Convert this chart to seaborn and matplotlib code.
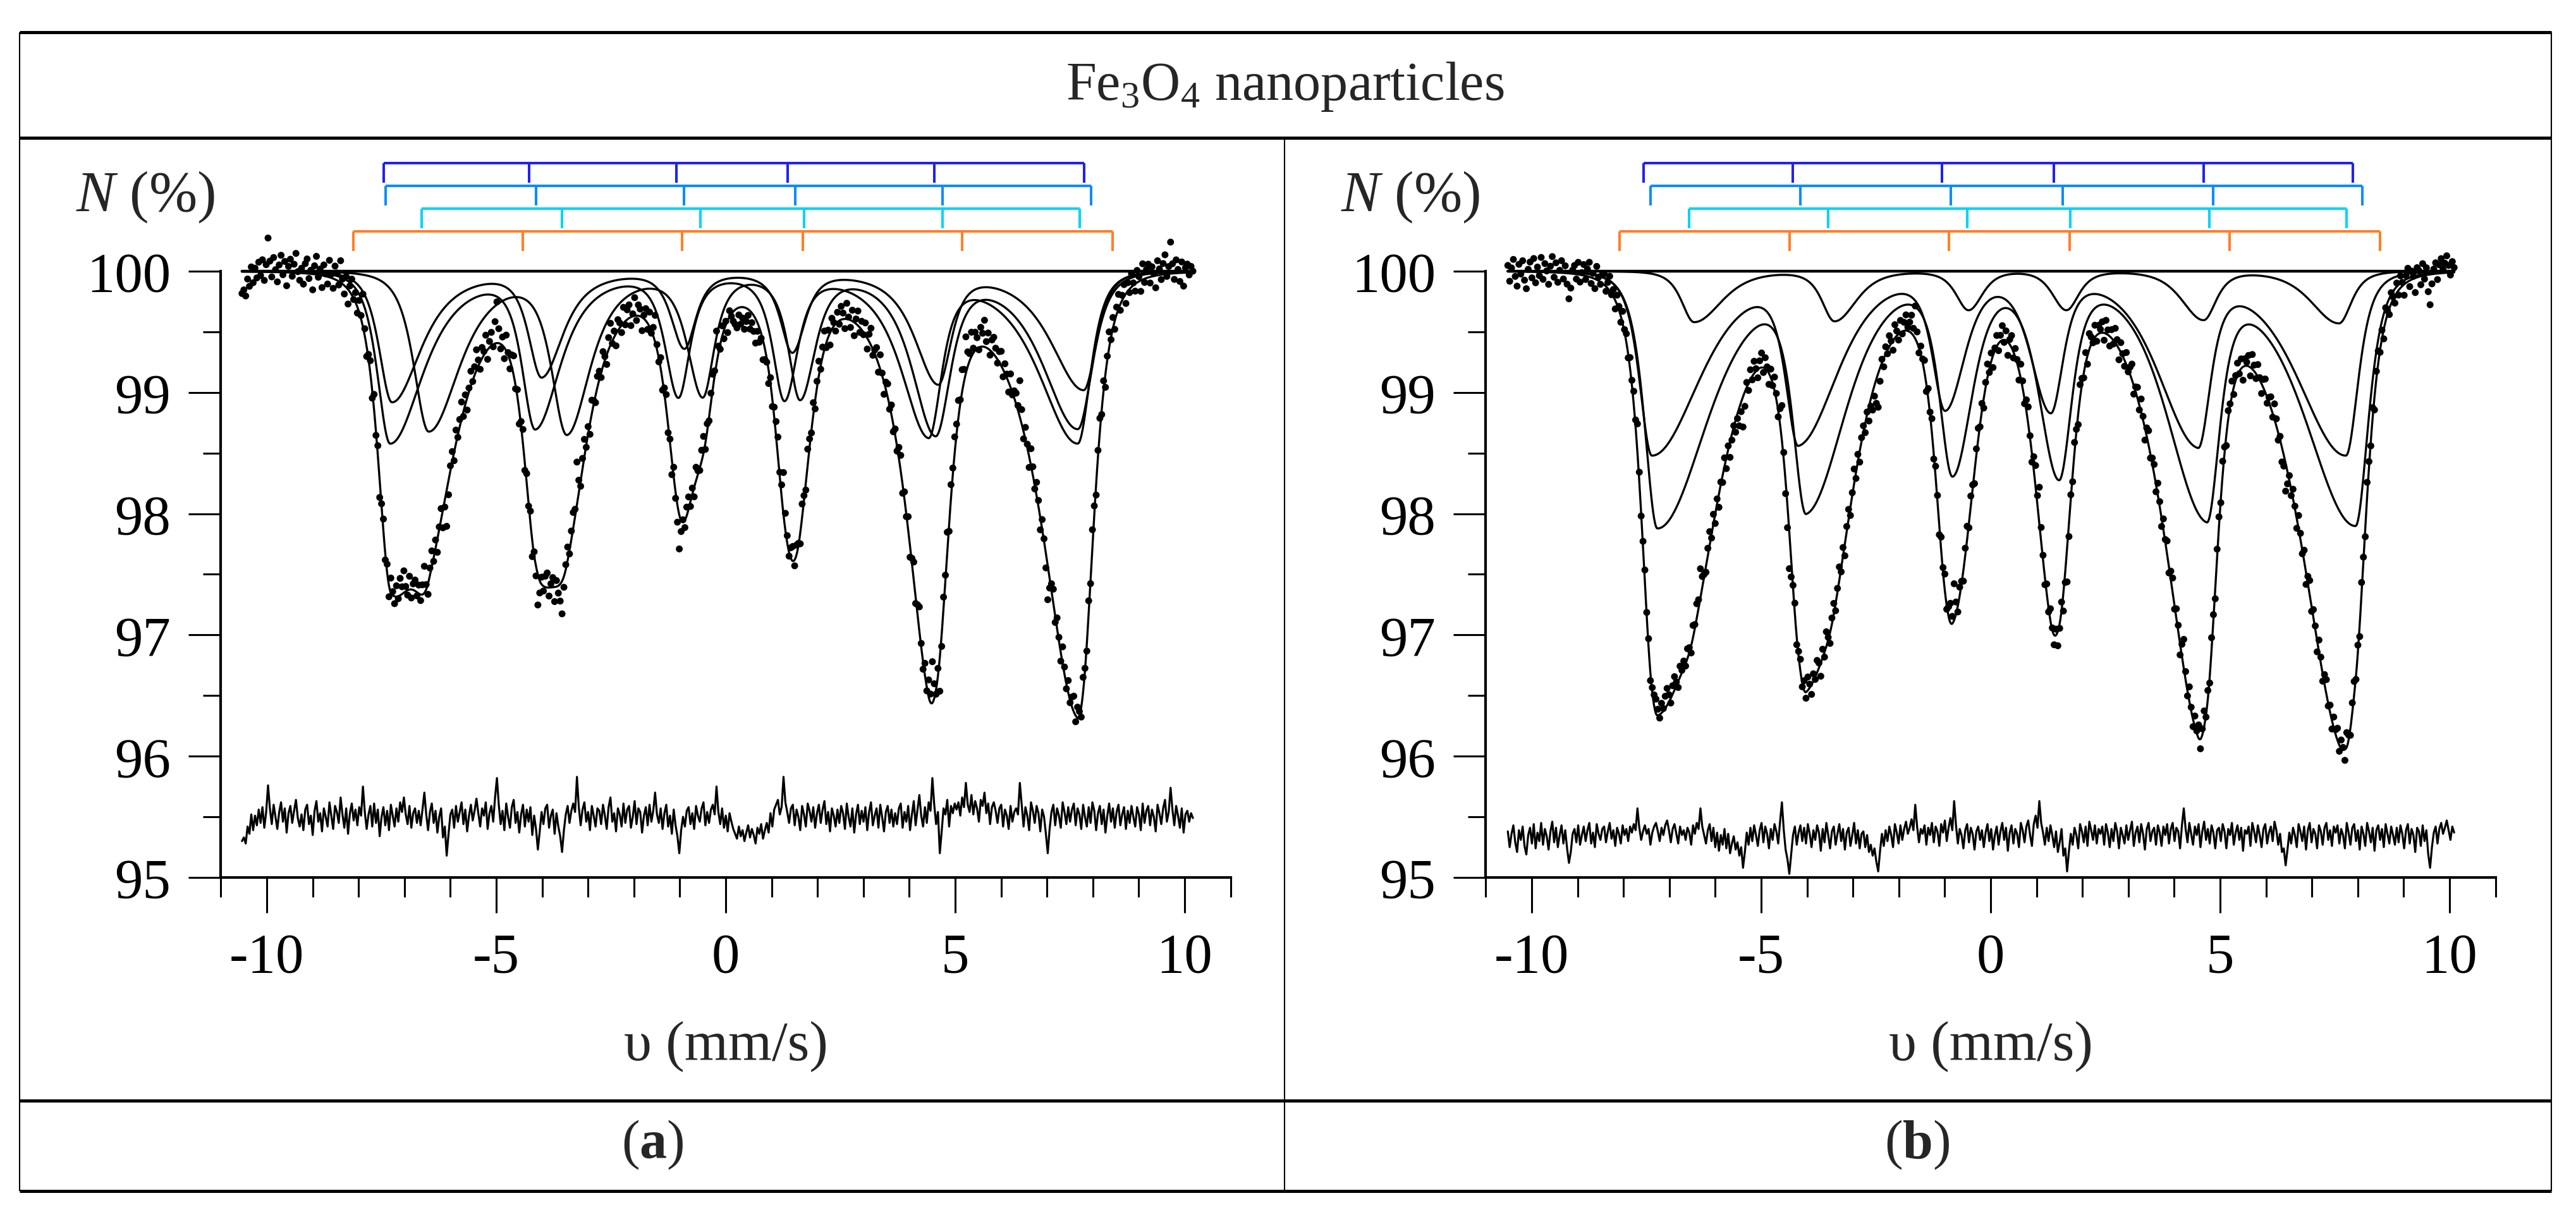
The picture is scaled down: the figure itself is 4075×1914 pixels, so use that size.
import numpy as np
import matplotlib
matplotlib.use("Agg")
import matplotlib.pyplot as plt
import seaborn as sns
from matplotlib.ticker import MultipleLocator

W_PX, H_PX, DPI = 4075, 1915, 100

# ---------------- data ----------------
BASELINE = 100.0

# velocity range of the measured channels
A_V_RANGE = (-10.54, 10.18)
B_V_RANGE = (-10.52, 10.10)

# sextet bar markers (line positions, mm/s)
A_DB_MARK = [-7.45, -4.28, -1.07, 1.35, 4.55, 7.81]
A_MB_MARK = [-7.41, -4.13, -0.91, 1.52, 4.72, 7.96]
A_CY_MARK = [-6.63, -3.57, -0.55, 1.71, 4.72, 7.71]
A_OR_MARK = [-8.11, -4.42, -0.95, 1.68, 5.15, 8.43]

B_DB_MARK = [-7.56, -4.31, -1.06, 1.38, 4.64, 7.89]
B_MB_MARK = [-7.41, -4.15, -0.87, 1.57, 4.85, 8.10]
B_CY_MARK = [-6.57, -3.54, -0.51, 1.74, 4.77, 7.75]
B_OR_MARK = [-8.09, -4.38, -0.91, 1.72, 5.21, 8.48]

# fitted subspectra: line minima (mm/s), depth (%), inner half-width (mm/s)
A_S1_POS = [-7.31, -4.15, -1.03, 1.28, 4.42, 7.67]
A_S1_DEPTH = [1.42, 1.25, 1.00, 1.02, 1.30, 1.42]
A_S1_HIN = [0.85, 0.65, 0.3, 0.3, 0.7, 1.0]
A_S2_POS = [-7.27, -4.01, -0.90, 1.45, 4.63, 7.80]
A_S2_DEPTH = [1.08, 0.85, 0.62, 0.65, 0.90, 0.98]
A_S2_HIN = [0.75, 0.55, 0.3, 0.3, 0.6, 0.85]
A_S3_POS = [-6.47, -3.46, -0.50, 1.62, 4.57, 7.67]
A_S3_DEPTH = [1.32, 1.30, 1.00, 1.02, 1.30, 1.30]
A_S3_HIN = [0.8, 0.6, 0.3, 0.3, 0.6, 0.9]
A_HOUT = [0.33, 0.33, 0.38]          # outer half-width per subspectrum
A_INNER_SHAPE = 1.5                  # Pearson VII exponent, inner flank

B_S1_POS = [-7.38, -4.19, -0.99, 1.31, 4.52, 7.74]
B_S1_DEPTH = [1.52, 1.36, 1.10, 1.12, 1.38, 1.52]
B_S1_HIN = [1.20, 1.00, 0.50, 0.50, 1.00, 1.20]
B_S2_POS = [-7.26, -4.02, -0.83, 1.49, 4.71, 7.95]
B_S2_DEPTH = [2.12, 1.88, 1.62, 1.65, 1.95, 2.10]
B_S2_HIN = [1.25, 1.00, 0.50, 0.50, 1.00, 1.25]
B_S3_POS = [-6.46, -3.40, -0.48, 1.65, 4.64, 7.59]
B_S3_DEPTH = [0.42, 0.41, 0.32, 0.32, 0.40, 0.43]
B_S3_HIN = [0.70, 0.55, 0.35, 0.35, 0.55, 0.70]
B_HOUT = [0.32, 0.33, 0.32]
B_INNER_SHAPE = 2.5

OUTER_SHAPE = 2.0

# residuals (data - fit), in 0.01 %
A_RESID = [
    -18, -15, -20, -6, -12, 4, -9, 3, -5, 8, -3, 10, -7, 6, 28, 9, -4, 12, 2, -8, 6, 14, -2, 9, -11, 5, 11, -3, 7, 16, 1, -6,
    4, -9, 8, 12, -4, 3, -13, 7, 15, -2, 5, -10, 9, 2, -6, 14, 3, -8, 11, 6, -3, 18, 4, -7, 9, -12, 5, 13, -1, 8, -5, 10,
    3, 27, 6, -8, 4, 11, -6, 13, -3, 8, -14, 2, 10, -5, 7, -9, 12, 3, -6, 9, -2, 14, 6, 18, 4, -4, 11, -7, 5, 9, -3, 7,
    -5, 8, 22, 4, -9, 6, 13, -3, 7, -11, 2, 9, -15, -6, -30, -12, 4, 8, -7, 11, -2, 6, 14, -4, 8, -10, 3, 12, -1, 7, 17, 5,
    -6, 9, 3, 14, -8, 5, 11, -2, 18, 34, 12, -4, 7, -9, 13, 2, -7, 10, 16, -3, 6, -11, 4, 12, -6, 8, -2, 10, -13, 3, -8, -25,
    -10, 6, -4, 9, 12, -7, 3, 8, -12, 5, -6, -14, -27, -9, 4, 11, -3, 7, 13, 6, 35, 10, -5, 8, 14, -2, 6, -9, 11, 3, -6, 9,
    7, -4, 12, 3, -8, 10, 18, -2, 5, -10, 9, 4, -6, 13, -3, 8, 11, -7, 2, 15, -4, 9, 6, -11, 3, 10, -5, 12, -2, 7, 22, 4,
    -3, 9, -8, 5, 12, -6, 3, -12, 8, -5, -14, -28, -9, 2, -6, 7, 10, -4, 5, -8, 11, 3, -2, 9, 14, -5, 6, -3, 8, 12, 4, 27,
    6, -4, 9, -7, 3, -10, 5, -2, -8, -12, -16, -6, -14, -9, -18, -11, -5, -15, -8, -13, -20, -7, -12, -4, -16, -9, -3, -11, 5, -6, 8, 12,
    16, 4, 10, 35, 14, 6, -3, 9, 12, -5, 8, 2, -9, 11, 4, -6, 13, 7, -2, 10, -7, 5, 12, -3, 8, 15, -4, 6, -10, 9, 3, -6,
    8, -3, 11, 5, -8, 13, 2, -6, 9, -11, 4, 12, -4, 7, -2, 10, -9, 6, 14, -5, 3, 9, -7, 12, 2, -10, 6, 11, -3, 8, -6, 5,
    -4, 9, 13, -7, 6, -2, 11, -9, 4, 15, -5, 8, 20, 3, -6, 10, -3, 14, 7, 34, 12, -4, 6, -28, -10, 9, 4, 16, -6, 11, 5, 13,
    8, 14, 3, 18, 10, 30, 12, 6, 20, 4, 15, 9, -2, 16, 11, 22, 5, 13, -4, 10, 14, 7, -3, 9, 12, -6, 8, 3, -8, 11, -2, 6,
    9, 4, 30, 12, -6, 10, 3, -9, 14, 7, -3, 11, 5, -10, 8, 2, -12, -28, -8, 6, 12, -5, 9, 3, -7, 14, 6, -4, 10, -2, 8, 13,
    -5, 9, 4, -8, 12, 2, -6, 10, -3, 14, 7, -9, 5, 11, -4, 8, -11, 3, 13, -2, 9, -7, 6, 12, -5, 4, 10, -8, 7, -3, 11, 2,
    -6, 10, 4, -9, 13, -3, 7, 11, -5, 8, 2, -10, 12, 5, -4, 9, 16, -2, 6, 26, 8, -5, 11, 3, -7, 9, -11, 4, 7, -2, 5, 1,
]
B_RESID = [
    5, -8, 3, 10, -4, -12, 6, -2, 9, -7, -14, 2, 8, -5, 11, -9, 4, -3, 12, -6, 7, 1, -10, 5, 13, -4, 8, -8, 2, 10, -5, 6,
    -9, -21, -12, 3, 7, -4, 10, -6, 2, 9, -3, 6, 12, -5, 4, -8, 11, 3, -2, 7, 9, -4, 5, 12, -1, 6, -7, 8, 3, -5, 10, 2,
    7, -3, 9, 4, 11, 6, 24, 8, -2, 5, 10, 3, 7, -6, 4, 9, 12, 5, -3, 8, 2, 10, 14, 6, -4, 7, 11, 3, -5, 9, 2, 6,
    -2, 8, 4, -6, 10, 3, 12, 7, 24, 9, 2, -5, 6, 11, -3, 8, -8, 4, -11, 2, -6, 7, -9, 3, -13, -5, 1, -10, -4, -15, -8, -25,
    -12, 4, -6, 8, -3, 10, 2, -7, 6, 12, -4, 9, 3, -9, 7, -2, 11, 5, -5, 13, 29, 6, -10, -18, -30, -14, 2, 9, -6, 4, 10, -3,
    8, -5, 11, 3, -8, 6, -2, 10, 4, -11, 7, -4, 12, 2, -9, 5, 9, -6, 3, 11, -3, 7, -10, 4, 8, -7, 2, 12, -5, 6, -9, 3,
    5, -8, 2, -12, -6, -15, -9, -20, -28, -11, 3, -7, 6, -3, 9, 2, -8, 11, 4, -5, 10, -2, 7, 13, 3, 8, 15, 6, 27, 9, -4, 7,
    3, 10, -6, 8, 2, 12, -4, 9, 5, -7, 11, 4, 14, -3, 8, 16, 6, 30, 10, -5, 7, 2, -9, 6, 11, -4, 8, 3, -10, 5, 9, -2,
    6, -8, 4, 11, -3, 7, -10, 2, 9, -6, 5, 12, -2, 8, -11, 4, 10, -5, 7, 3, -8, 12, 6, -4, 9, 14, 2, -7, 11, 18, 8, 30,
    12, 4, -6, 8, -3, 10, 2, -8, 5, -12, -4, 7, -15, -9, -28, -11, 3, -6, 8, 2, -9, 11, 5, -4, 9, -7, 13, 6, -2, 10, -5, 7,
    3, 9, -6, 11, 4, -8, 7, -3, 12, 5, -9, 8, 2, -5, 10, -2, 6, 13, -7, 4, 9, -4, 11, 3, -10, 7, 12, -3, 5, 8, -6, 10,
    4, -7, 9, 2, 11, -5, 7, 12, -3, 8, 5, -9, 10, 24, 7, -4, 12, 3, -6, 9, 2, 11, -8, 5, 13, -2, 7, -5, 10, 4, -9, 6,
    8, -3, 11, 5, -9, 7, 2, 12, -6, 4, 10, -2, 8, -11, 6, 3, 9, -7, 12, 5, -4, 10, 2, -8, 7, 11, -5, 4, 9, -3, 13, 6,
    -6, 3, -12, -9, -23, -10, 4, -5, 8, 2, -8, 11, 5, -3, 9, -10, 6, 12, -4, 7, 3, -9, 10, 5, -6, 8, 12, -2, 6, -7, 9, 4,
    10, -5, 7, 2, -9, 12, 4, -6, 8, 11, -3, 6, -10, 9, 3, -7, 12, 5, -4, 8, -11, 6, 10, -2, 7, -8, 11, 3, -5, 9, 2, -6,
    8, -4, 10, 3, -9, 6, 11, -5, 7, 2, -12, 8, 5, -7, 10, -3, 6, -14, -25, -8, 4, 9, -5, 7, 12, 3, 8, 14, 6, -2, 9, 4,
]
A_RESID_LEVEL = 95.48
B_RESID_LEVEL = 95.33

MARK_COLORS = ["#2121EE", "#0A8CFF", "#00D4F6", "#FF7F27"]
MARK_TOP, MARK_STEP, MARK_TICK = 100.89, 0.187, 0.16


def pearson(d, h, m):
    return (1.0 + (2.0 ** (1.0 / m) - 1.0) * (d / h) ** 2) ** (-m)


def subspectrum(v, pos, depth, h_in, h_out, m_in):
    """Absorption of one sextet; each line has a steep outer flank and a
    broader inner flank (towards the sextet centre)."""
    pos = np.asarray(pos, float)
    mid = pos.mean()
    out = np.zeros_like(v)
    for c, d, hi in zip(pos, depth, h_in):
        dx = v - c
        inner = dx * (mid - c) > 0
        out += d * np.where(inner, pearson(dx, hi, m_in), pearson(dx, h_out, OUTER_SHAPE))
    return out


def draw_panel(ax, v_range, subs, h_outs, m_in, resid, resid_level, marks):
    resid = np.asarray(resid, float) * 0.01
    v_ch = np.linspace(v_range[0], v_range[1], len(resid))
    v_fine = np.linspace(v_range[0], v_range[1], 2000)

    curves_fine = [subspectrum(v_fine, p, d, hi, ho, m_in) for (p, d, hi), ho in zip(subs, h_outs)]
    fit_ch = BASELINE - sum(subspectrum(v_ch, p, d, hi, ho, m_in) for (p, d, hi), ho in zip(subs, h_outs))
    fit_fine = BASELINE - sum(curves_fine)

    sns.scatterplot(x=v_ch, y=fit_ch + resid, ax=ax, s=62, color="black",
                    edgecolor="none", linewidth=0, zorder=3, legend=False)
    sns.lineplot(x=v_fine, y=np.full_like(v_fine, BASELINE), ax=ax, color="black",
                 lw=3.2, estimator=None, sort=False, zorder=4, legend=False)
    for cf in curves_fine:
        sns.lineplot(x=v_fine, y=BASELINE - cf, ax=ax, color="black", lw=2.4,
                     estimator=None, sort=False, zorder=4, legend=False)
    sns.lineplot(x=v_fine, y=fit_fine, ax=ax, color="black", lw=2.4,
                 estimator=None, sort=False, zorder=5, legend=False)
    sns.lineplot(x=v_ch, y=resid_level + resid, ax=ax, color="black", lw=2.3,
                 estimator=None, sort=False, zorder=4, legend=False)

    for k, (pos, col) in enumerate(zip(marks, MARK_COLORS)):
        y = MARK_TOP - k * MARK_STEP
        ax.plot([pos[0], pos[-1]], [y, y], color=col, lw=2.9, solid_capstyle="butt")
        ax.vlines(pos, y - MARK_TICK, y, color=col, lw=2.9)

    ax.set_xlim(-11, 11)
    ax.set_ylim(95, 101.1)
    ax.set_facecolor("none")
    for side in ("top", "right"):
        ax.spines[side].set_visible(False)
    for side in ("left", "bottom"):
        ax.spines[side].set_linewidth(3.0)
    ax.spines["left"].set_bounds(95, 100)
    ax.set_xticks([-10, -5, 0, 5, 10])
    ax.xaxis.set_minor_locator(MultipleLocator(1))
    ax.set_yticks([95, 96, 97, 98, 99, 100])
    ax.set_yticks([95.5, 96.5, 97.5, 98.5, 99.5], minor=True)
    ax.tick_params(axis="x", which="major", length=40, width=2.2, pad=22, labelsize=64)
    ax.tick_params(axis="x", which="minor", length=22, width=2.2)
    ax.tick_params(axis="y", which="major", length=37, width=2.2, pad=20, labelsize=64)
    ax.tick_params(axis="y", which="minor", length=20, width=2.2)
    ax.set_xlabel("")
    ax.set_ylabel("")
    ax.text(0.5, -0.2274, "υ (mm/s)", transform=ax.transAxes, ha="center",
            va="center", fontsize=64)
    ax.text(-0.006, 0.9205, "$N$ (%)", transform=ax.transAxes, ha="right",
            va="center", fontsize=66)


sns.set_theme(style="ticks")
plt.rcParams["font.family"] = ["Liberation Serif", "DejaVu Serif"]
plt.rcParams["mathtext.fontset"] = "custom"
plt.rcParams["mathtext.rm"] = "Liberation Serif"
plt.rcParams["mathtext.it"] = "Liberation Serif:italic"
plt.rcParams["mathtext.bf"] = "Liberation Serif:bold"
plt.rcParams["axes.unicode_minus"] = False
plt.rcParams["xtick.color"] = "black"
plt.rcParams["ytick.color"] = "black"
plt.rcParams["axes.edgecolor"] = "black"

fig = plt.figure(figsize=(W_PX / DPI, H_PX / DPI), dpi=DPI)
fig.patch.set_facecolor("white")

# table frame in pixel coordinates
frame = fig.add_axes([0, 0, 1, 1], zorder=-1)
frame.set_xlim(0, W_PX)
frame.set_ylim(H_PX, 0)
frame.axis("off")
thick, thin = 3.6, 1.5
frame.hlines([52, 219, 1742, 1885], 31, 4036, color="black", lw=thick)
frame.vlines([31, 4036], 52, 1885, color="black", lw=thin)
frame.vlines([2032], 219, 1885, color="black", lw=thin)

ax_w = 1597.2 / W_PX
ax_b = (H_PX - 1389) / H_PX
ax_h = 1170 / H_PX
ax_a = fig.add_axes([349.4 / W_PX, ax_b, ax_w, ax_h])
ax_bb = fig.add_axes([(349.4 + 2001) / W_PX, ax_b, ax_w, ax_h])

draw_panel(ax_a, A_V_RANGE,
           [(A_S1_POS, A_S1_DEPTH, A_S1_HIN), (A_S2_POS, A_S2_DEPTH, A_S2_HIN),
            (A_S3_POS, A_S3_DEPTH, A_S3_HIN)],
           A_HOUT, A_INNER_SHAPE, A_RESID, A_RESID_LEVEL,
           [A_DB_MARK, A_MB_MARK, A_CY_MARK, A_OR_MARK])
draw_panel(ax_bb, B_V_RANGE,
           [(B_S1_POS, B_S1_DEPTH, B_S1_HIN), (B_S2_POS, B_S2_DEPTH, B_S2_HIN),
            (B_S3_POS, B_S3_DEPTH, B_S3_HIN)],
           B_HOUT, B_INNER_SHAPE, B_RESID, B_RESID_LEVEL,
           [B_DB_MARK, B_MB_MARK, B_CY_MARK, B_OR_MARK])

fig.text(2033 / W_PX, 1 - 137 / H_PX, r"Fe$_3$O$_4$ nanoparticles", ha="center",
         va="center", fontsize=62)
fig.text(1032 / W_PX, 1 - 1811 / H_PX, r"($\mathbf{a}$)", ha="center", va="center",
         fontsize=62)
fig.text(3033 / W_PX, 1 - 1811 / H_PX, r"($\mathbf{b}$)", ha="center", va="center",
         fontsize=62)

fig.savefig("out.png", dpi=DPI, facecolor="white")
